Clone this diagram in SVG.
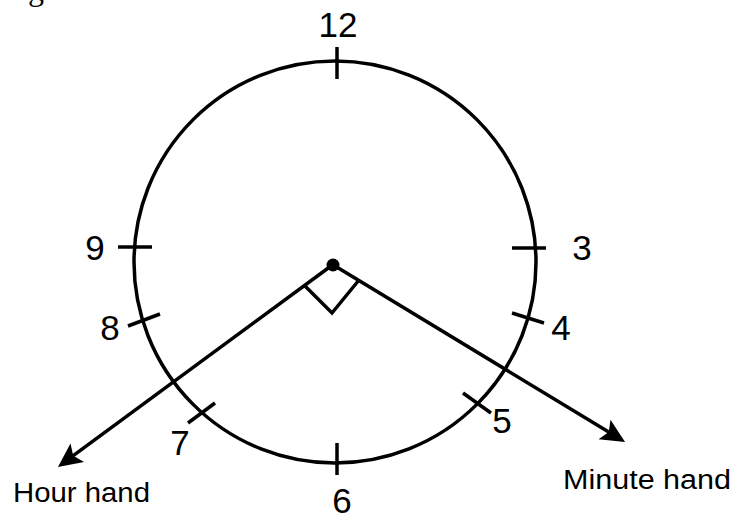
<svg xmlns="http://www.w3.org/2000/svg" width="734" height="518" viewBox="0 0 734 518">
  <style>
    .ln { stroke: #000; stroke-width: 3.5; fill: none; }
    .tick { stroke: #000; stroke-width: 3.5; stroke-linecap: butt; }
    .num { font-family: "Liberation Sans", Arial, sans-serif; font-size: 35px; fill: #000; text-anchor: middle; }
    .lbl { font-family: "Liberation Sans", Arial, sans-serif; font-size: 27px; fill: #000; }
    .cut { font-family: "Liberation Serif", "Times New Roman", serif; font-size: 32px; fill: #000; }
  </style>
  <defs>
    <marker id="arrow" markerUnits="userSpaceOnUse" markerWidth="40" markerHeight="40" refX="0" refY="0" viewBox="-20 -20 40 40" orient="auto" overflow="visible">
      <path d="M8,0 L-16,-11.5 L-11,0 L-16,11.5 Z" fill="#000"/>
    </marker>
  </defs>

  <text class="cut" x="28" y="0">g to be rotated</text>

  <g id="clock-face">
    <circle class="ln" cx="335" cy="262" r="201"/>
  </g>

  <g id="ticks">
    <line class="tick" x1="337" y1="47" x2="337" y2="79"/>
    <line class="tick" x1="337" y1="443" x2="337" y2="475"/>
    <line class="tick" x1="118" y1="247" x2="152" y2="247"/>
    <line class="tick" x1="512" y1="248" x2="546" y2="248"/>
    <line class="tick" x1="128" y1="326" x2="160" y2="314"/>
    <line class="tick" x1="512" y1="313" x2="544" y2="323"/>
    <line class="tick" x1="188" y1="423" x2="215" y2="403"/>
    <line class="tick" x1="463" y1="393" x2="491" y2="413"/>
  </g>

  <g id="numbers">
    <text class="num" x="338" y="37">12</text>
    <text class="num" x="95" y="260">9</text>
    <text class="num" x="110" y="340">8</text>
    <text class="num" x="582" y="260">3</text>
    <text class="num" x="561" y="340">4</text>
    <text class="num" x="180" y="455">7</text>
    <text class="num" x="502" y="433">5</text>
    <text class="num" x="342" y="513">6</text>
  </g>

  <g id="connectors">
    <line id="hour-hand" class="ln" x1="331" y1="266" x2="64.4" y2="462.2" marker-end="url(#arrow)"/>
    <line id="minute-hand" class="ln" x1="335" y1="266" x2="618.2" y2="437.8" marker-end="url(#arrow)"/>
    <polyline id="right-angle" class="ln" points="304,285 332,313 359,280"/>
  </g>

  <g id="center">
    <circle cx="333" cy="265" r="6.5" fill="#000"/>
  </g>

  <g id="labels">
    <text class="lbl" x="13" y="502" textLength="137" lengthAdjust="spacingAndGlyphs">Hour hand</text>
    <text class="lbl" x="563" y="489" textLength="168" lengthAdjust="spacingAndGlyphs">Minute hand</text>
  </g>
</svg>
